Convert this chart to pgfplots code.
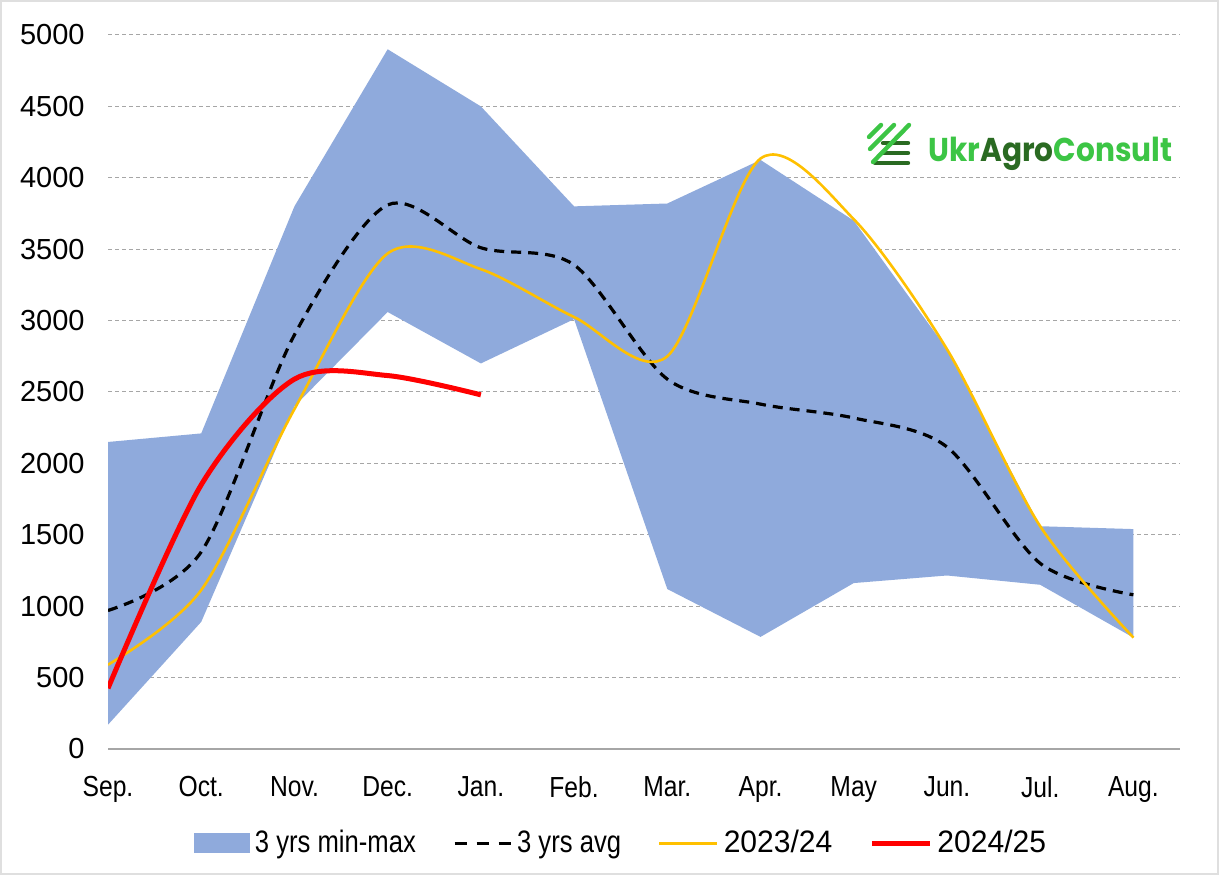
\documentclass[border=0pt]{standalone}
\usepackage{pgfplots}
\pgfplotsset{compat=1.18}
\usepgfplotslibrary{fillbetween}
\usepackage{fontspec}
\setmainfont{Liberation Sans}
\newfontfamily\narrowfont{Liberation Sans}[FakeStretch=0.85]
\newfontfamily\legtext{Liberation Sans}[FakeStretch=0.827]
\newfontfamily\legnum{Liberation Sans}[FakeStretch=0.97]
\newfontfamily\logofont{Poppins}
\definecolor{bandblue}{HTML}{8FAADC}
\definecolor{yel}{HTML}{FFC000}
\definecolor{gridgray}{HTML}{A6A6A6}
\definecolor{lgreen}{HTML}{3CC545}
\definecolor{dgreen}{HTML}{2A6A22}
\begin{document}
\begin{tikzpicture}
\begin{axis}[name=ax, scale only axis, width=536pt, height=357pt,
  xmin=0, xmax=11.5, ymin=0, ymax=5000,
  xtick={0,...,11},
  xticklabels={Sep.,Oct.,Nov.,Dec.,Jan.,Feb.,Mar.,Apr.,May,Jun.,Jul.,Aug.},
  ytick={0,500,...,5000},
  major tick length=0pt,
  ymajorgrids, grid style={gridgray, dash pattern=on 2pt off 1.5pt, line width=0.5pt},
  axis x line*=bottom, axis y line*=left,
  x axis line style={gray!70, line width=0.7pt, -},
  y axis line style={draw=none},
  /pgf/number format/assume math mode=true,
  /pgf/number format/set thousands separator={},
  yticklabel style={font=\fontsize{14.5}{16}\selectfont, anchor=east, xshift=-8.2pt},
  xticklabel style={font=\narrowfont\fontsize{14.5}{16}\selectfont, anchor=north, yshift=-10pt},
  legend style={at={(0.48,-0.132)}, anchor=center, draw=none, fill=none,
    font=\legtext\fontsize{15.5}{17}\selectfont,
    /tikz/every even column/.append style={column sep=16pt},
    nodes={inner sep=2.5pt}},
  legend columns=4, legend cell align=left,
]
\addplot[draw=none, name path=upper, forget plot] coordinates {
 (0,2150) (1,2210) (2,3800) (3,4900) (4,4500) (5,3800) (6,3820) (7,4125) (8,3700) (9,2800) (10,1560) (11,1540)};
\addplot[draw=none, name path=lower, forget plot] coordinates {
 (0,170) (1,890) (2,2400) (3,3060) (4,2700) (5,3010) (6,1120) (7,785) (8,1162) (9,1215) (10,1150) (11,780)};
\addplot[fill=bandblue, draw=none,
  legend image code/.code={\fill[bandblue] (0pt,-5pt) rectangle (28pt,5pt);}]
  fill between[of=upper and lower];
\addlegendentry{3 yrs min-max}
\addplot[black, line width=1.6pt, dash pattern=on 5pt off 3.5pt, smooth,
  legend image code/.code={\draw[black, line width=1.6pt, dash pattern=on 6pt off 5pt] (0pt,0pt) -- (28pt,0pt);}]
  coordinates {
 (0,970) (1,1380) (2,2900) (3,3810) (4,3510) (5,3390) (6,2590) (7,2415) (8,2318) (9,2115) (10,1300) (11,1080)};
\addlegendentry{3 yrs avg}
\addplot[yel, line width=1.3pt, smooth,
  legend image code/.code={\draw[yel, line width=1.3pt] (0pt,0pt) -- (29pt,0pt);}]
  coordinates {
 (0,590) (1,1113) (2,2380) (3,3470) (4,3360) (5,3025) (6,2750) (7,4135) (8,3710) (9,2800) (10,1560) (11,780)};
\addlegendentry{{\legnum 2023/24}}
\addplot[red, line width=2.5pt, smooth,
  legend image code/.code={\draw[red, line width=2.5pt] (0pt,0pt) -- (29pt,0pt);}]
  coordinates {
 (0,425) (1,1850) (2,2590) (3,2615) (4,2480)};
\addlegendentry{{\legnum 2024/25}}
\end{axis}
\begin{scope}[shift={(ax.south west)}, x=0.5pt, y=-0.5pt]
  % logo icon
  \draw[dgreen, line width=2.2pt, line cap=round] ({883-108},{143-749}) -- ({908-108},{143-749});
  \draw[dgreen, line width=2.2pt, line cap=round] ({883-108},{153-749}) -- ({908-108},{153-749});
  \draw[dgreen, line width=2.2pt, line cap=round] ({875-108},{163-749}) -- ({908-108},{163-749});
  \draw[lgreen, line width=2.2pt, line cap=round] ({869-108},{137-749}) -- ({881-108},{125-749});
  \draw[lgreen, line width=2.2pt, line cap=round] ({870-108},{149-749}) -- ({894-108},{125-749});
  \draw[lgreen, line width=2.2pt, line cap=round] ({873-108},{162-749}) -- ({909-108},{125-749});
  \node[anchor=base west, inner sep=0pt] at ({928-108},{162-749})
    {\resizebox{122pt}{12.2pt}{\logofont\bfseries\textcolor{lgreen}{Ukr}\textcolor{dgreen}{Agro}\textcolor{lgreen}{Consult}}};
  \pgfresetboundingbox
  \draw[gray!25, line width=1pt] ({-108+1.5},{-749+1.5}) rectangle ({1111-1.5},{127-1.5});
  \path ({-108},{-749}) rectangle ({1111},{127});
\end{scope}
\end{tikzpicture}
\end{document}
